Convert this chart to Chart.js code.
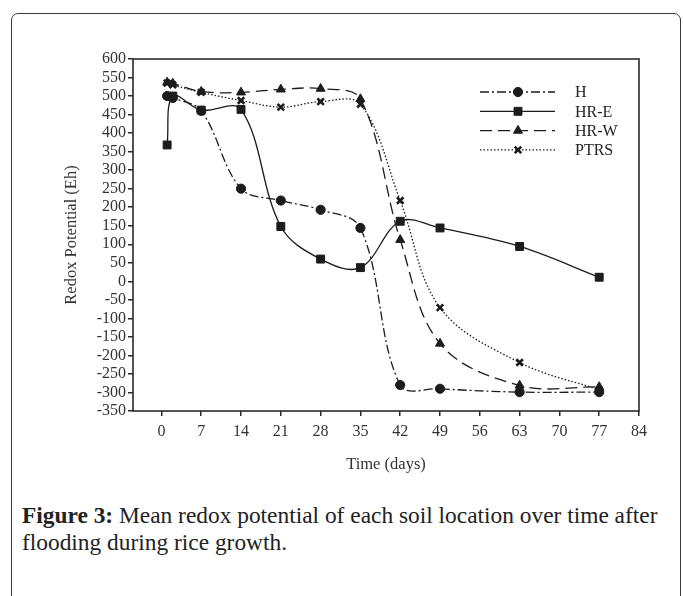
<!DOCTYPE html>
<html>
<head>
<meta charset="utf-8">
<script src="https://cdn.jsdelivr.net/npm/chart.js@4/dist/chart.umd.min.js"></script>
<style>
    html, body { margin: 0; padding: 0; background: #fff; overflow: hidden; }
    body { width: 683px; height: 596px; position: relative; }
    .frame {
        position: absolute; left: 11px; top: 13px; width: 670px; height: 620px;
        border: 1.5px solid #3a3a3a; border-radius: 7px; box-sizing: border-box;
    }
    #chart { position: absolute; left: 0; top: 0; }
    .caption {
        position: absolute; left: 22px; top: 502px; width: 655px;
        font-family: "Liberation Serif", serif; font-size: 23.4px; line-height: 27px; color: #222;
    }
    .caption b { font-weight: bold; }
</style>
</head>
<body>
<div class="frame"></div>
<canvas id="chart" width="683" height="480"></canvas>
<div class="caption"><b>Figure 3:</b> Mean redox potential of each soil location over time after flooding during rice growth.</div>
<script>
// sampling days after flooding
const days = [1, 2, 7, 14, 21, 28, 35, 42, 49, 63, 77];
const seriesNames = ['H', 'HR-E', 'HR-W', 'PTRS'];

// Eh values
const hValues    = [500, 495, 460, 250, 218, 193, 144, -280, -290, -299, -299];
const hreValues  = [368, 500, 462, 464, 148, 60, 37, 162, 144, 94, 11];
const hrwValues  = [537, 534, 512, 510, 518, 520, 492, 112, -168, -281, -285];
const ptrsValues = [535, 530, 510, 488, 470, 485, 478, 218, -71, -219, -293];

const xTicks = [0, 7, 14, 21, 28, 35, 42, 49, 56, 63, 70, 77, 84];

const INK = '#1c1c1c';
const FONT = '"Liberation Serif", "Times New Roman", serif';

function points(values) {
    return days.map((d, i) => ({ x: d, y: values[i] }));
}

const styles = [
    { dash: [9, 3, 2, 3], point: 'circle', radius: 4.6 },
    { dash: [], point: 'rect', radius: 5.6 },
    { dash: [12, 6], point: 'triangle', radius: 5.2 },
    { dash: [1.5, 2], point: 'crossRot', radius: 4.6 }
];

const allValues = [hValues, hreValues, hrwValues, ptrsValues];

const datasets = allValues.map((vals, i) => ({
    label: seriesNames[i],
    data: points(vals),
    borderColor: INK,
    backgroundColor: INK,
    borderWidth: 1.3,
    borderDash: styles[i].dash,
    pointStyle: styles[i].point,
    pointRadius: styles[i].radius,
    pointBorderWidth: styles[i].point === 'crossRot' ? 2.6 : 1,
    pointBackgroundColor: INK,
    pointBorderColor: INK,
    tension: 0.36,
    fill: false
}));

// box round the plot area + line/marker legend
const framePlugin = {
    id: 'frameAndLegend',
    afterDatasetsDraw(chart) {
        const { ctx, chartArea: a } = chart;
        ctx.save();
        ctx.strokeStyle = '#2a2a2a';
        ctx.lineWidth = 1.6;
        ctx.strokeRect(a.left, a.top, a.right - a.left, a.bottom - a.top);

        const x0 = a.right - 159, x1 = a.right - 84, xm = a.right - 121;
        chart.data.datasets.forEach((ds, i) => {
            const y = a.top + 33 + i * 19.3;
            ctx.strokeStyle = INK;
            ctx.lineWidth = 1.3;
            ctx.setLineDash(ds.borderDash);
            ctx.beginPath();
            ctx.moveTo(x0, y);
            ctx.lineTo(x1, y);
            ctx.stroke();
            ctx.setLineDash([]);
            ctx.fillStyle = INK;
            ctx.lineWidth = ds.pointBorderWidth;
            Chart.helpers.drawPoint(ctx, { pointStyle: ds.pointStyle, radius: ds.pointRadius, borderWidth: ds.pointBorderWidth }, xm, y);
            ctx.fillStyle = '#222';
            ctx.font = '16px ' + FONT;
            ctx.textBaseline = 'middle';
            ctx.fillText(ds.label, a.right - 64, y + 1);
        });
        ctx.restore();
    }
};

new Chart(document.getElementById('chart'), {
    type: 'line',
    data: { datasets },
    options: {
        responsive: false,
        animation: false,
        layout: { padding: { left: 0, top: 59, right: 44, bottom: 0 } },
        plugins: {
            legend: { display: false },
            tooltip: { enabled: false }
        },
        scales: {
            x: {
                type: 'linear',
                min: -5,
                max: 84,
                afterBuildTicks: (scale) => {
                    scale.ticks = xTicks.map(v => ({ value: v }));
                },
                afterFit: (scale) => { scale.height = 69; },
                border: { display: false },
                grid: {
                    drawOnChartArea: false,
                    drawTicks: true,
                    tickLength: 5,
                    color: '#2a2a2a',
                    lineWidth: 1.5
                },
                ticks: {
                    color: '#333',
                    padding: 6,
                    maxRotation: 0,
                    autoSkip: false,
                    font: { family: FONT, size: 16 }
                },
                title: {
                    display: true,
                    text: 'Time (days)',
                    color: '#333',
                    font: { family: FONT, size: 16.5 },
                    padding: { top: 0, bottom: 5 }
                }
            },
            y: {
                min: -350,
                max: 600,
                afterFit: (scale) => { scale.width = 133; },
                border: { display: false },
                grid: {
                    drawOnChartArea: false,
                    drawTicks: true,
                    tickLength: 5,
                    color: '#2a2a2a',
                    lineWidth: 1.5
                },
                ticks: {
                    stepSize: 50,
                    color: '#333',
                    padding: 2,
                    autoSkip: false,
                    font: { family: FONT, size: 16 }
                },
                title: {
                    display: true,
                    text: 'Redox Potential (Eh)',
                    color: '#333',
                    font: { family: FONT, size: 16.5 },
                    padding: { top: 62, bottom: 0 }
                }
            }
        }
    },
    plugins: [framePlugin]
});
</script>
</body>
</html>
